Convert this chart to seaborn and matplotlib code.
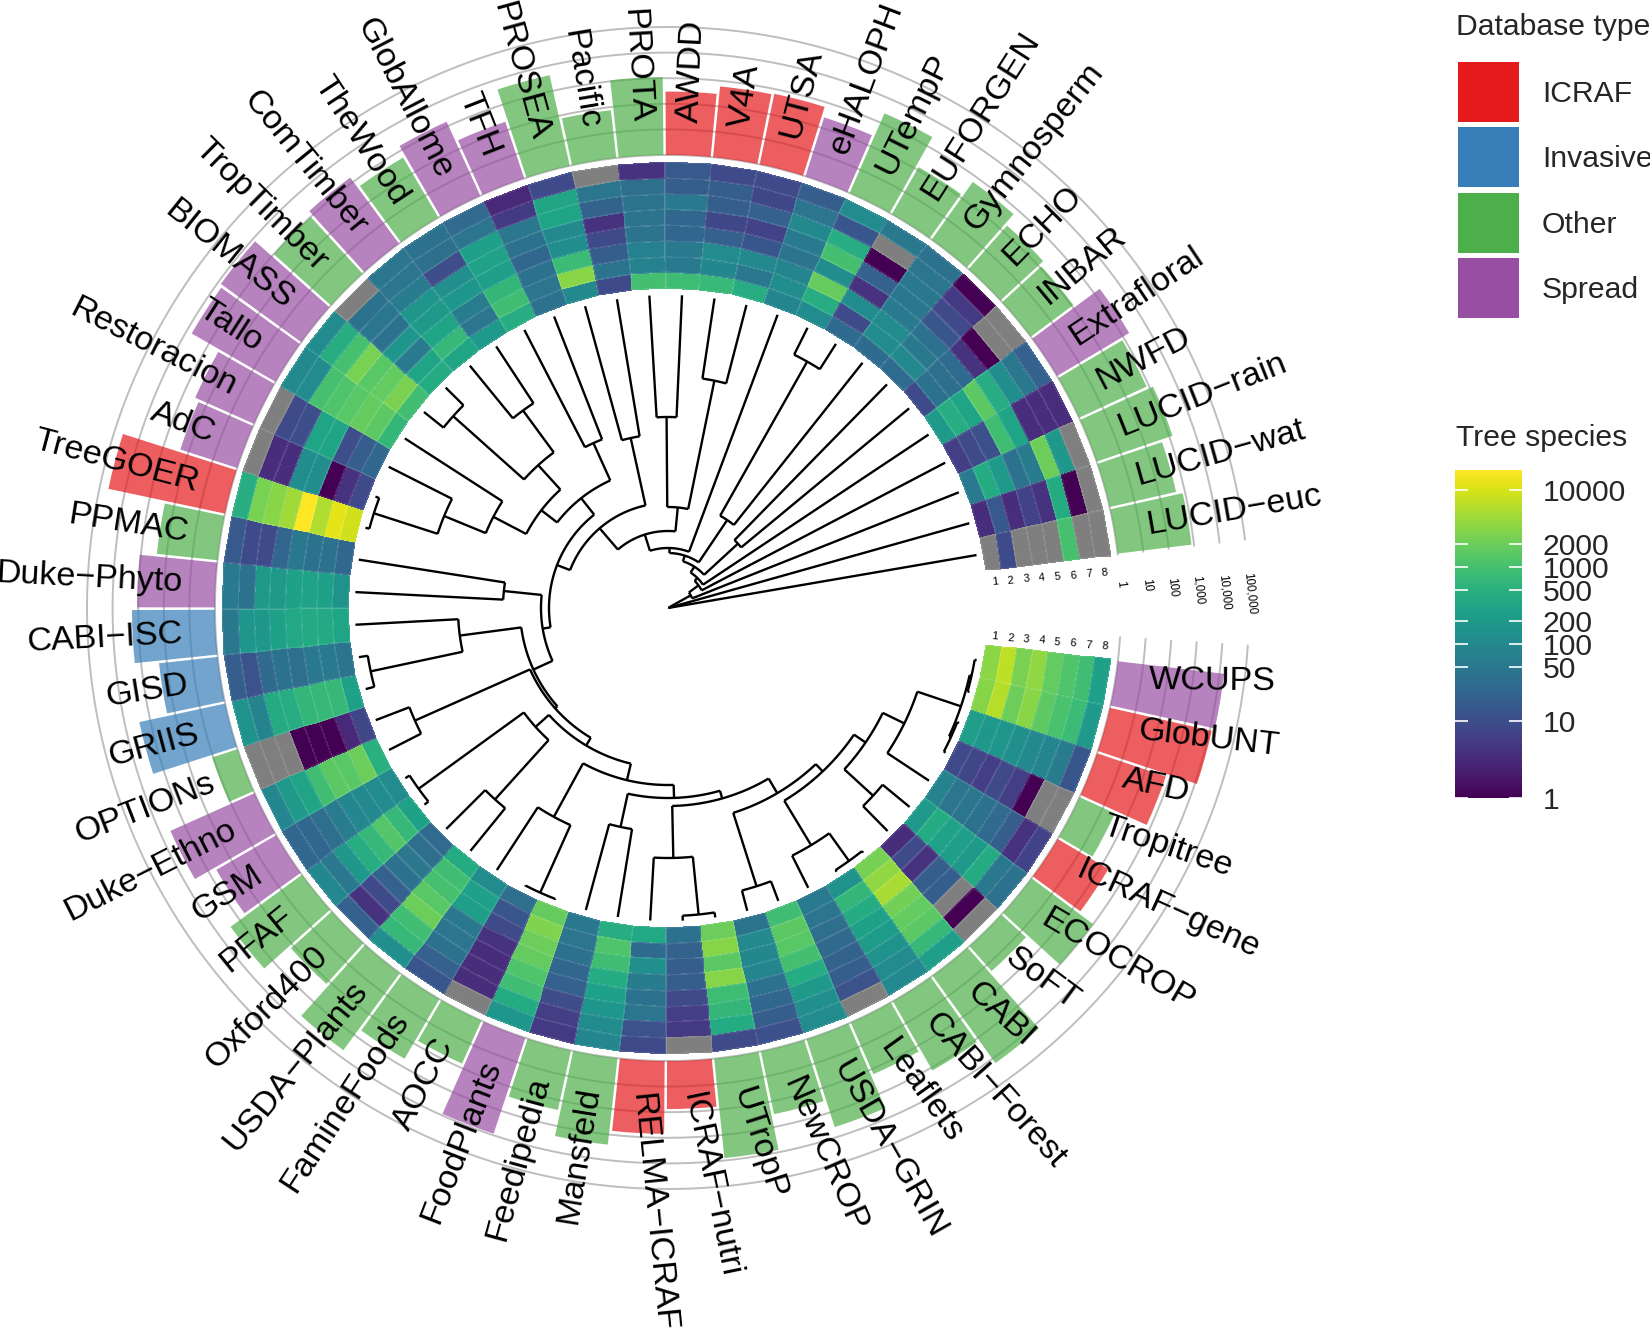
#!/usr/bin/env python3
import numpy as np
import pandas as pd
import seaborn as sns
import matplotlib
matplotlib.use("Agg")
import matplotlib.pyplot as plt
from matplotlib.colors import LogNorm
from matplotlib.patches import Rectangle

NA = np.nan

DATABASES = [
    "WCUPS", "GlobUNT", "AFD", "Tropitree", "ICRAF−gene", "ECOCROP", "SoFT", "CABI",
    "CABI−Forest", "Leaflets", "USDA−GRIN", "NewCROP", "UTropP", "ICRAF−nutri",
    "RELMA−ICRAF", "Mansfeld", "Feedipedia", "FoodPlants", "AOCC", "FamineFoods",
    "USDA−Plants", "Oxford400", "PFAF", "GSM", "Duke−Ethno", "OPTIONs", "GRIIS", "GISD",
    "CABI−ISC", "Duke−Phyto", "PPMAC", "TreeGOER", "AdC", "Restoracion", "Tallo",
    "BIOMASS", "TropTimber", "ComTimber", "TheWood", "GlobAllome", "TFH", "PROSEA",
    "Pacific", "PROTA", "AWDD", "V4A", "UTSA", "eHALOPH", "UTempP", "EUFORGEN",
    "Gymnosperm", "ECHO", "INBAR", "Extrafloral", "NWFD", "LUCID−rain", "LUCID−wat",
    "LUCID−euc",
]

DB_TYPES = [
    "Spread", "ICRAF", "ICRAF", "Other", "ICRAF", "Other", "Other", "Other",
    "Other", "Other", "Other", "Other", "Other", "ICRAF",
    "ICRAF", "Other", "Other", "Spread", "Other", "Other",
    "Other", "Other", "Other", "Spread", "Spread", "Other", "Invasive", "Invasive",
    "Invasive", "Spread", "Other", "ICRAF", "Spread", "Spread", "Spread",
    "Spread", "Other", "Spread", "Other", "Spread", "Spread", "Other",
    "Other", "Other", "ICRAF", "ICRAF", "ICRAF", "Spread", "Other", "Other",
    "Other", "Other", "Other", "Spread", "Other", "Other", "Other",
    "Other",
]

TOTAL_SPECIES = [
    15000, 12000, 680, 33, 200, 1000, 20, 16000,
    1300, 160, 4000, 320, 8000, 75,
    700, 2500, 240, 8700, 68, 500,
    5400, 140, 2800, 500, 4000, 11, 2700, 200,
    1750, 1100, 240, 45000, 215, 330, 6000,
    7500, 1000, 1600, 520, 1500, 215, 4200,
    75, 1100, 300, 600, 650, 260, 2500, 130,
    590, 185, 118, 1900, 800, 1350, 460,
    800,
]

# tree species per database, one row per database, columns are the rings 1-8
HEAT_VALUES = [
    [3300, 6800, 2500, 3500, 1700, 1200, 900, 250],
    [3000, 6000, 2000, 3200, 1600, 1100, 800, 200],
    [230, 180, 170, 130, 100, 85, 60, 14],
    [9, 8, 6, 9, 6, 1, NA, NA],
    [80, 45, 45, 40, 28, 18, 4, 7],
    [200, 400, 280, 230, 200, 400, 50, 38],
    [3.5, 9, 4, 18, 18, NA, 1, NA],
    [2300, 3500, 5000, 2200, 1700, 1500, 700, 230],
    [150, 650, 420, 260, 220, 150, 110, 100],
    [55, 45, 35, 28, 22, 18, 12, NA],
    [900, 1500, 1400, 950, 420, 200, 130, 110],
    [42, 100, 95, 85, 40, 25, 18, 11],
    [2000, 3000, 1500, 3000, 850, 650, 400, 9],
    [40, 22, 18, 18, 9, 6, 5, NA],
    [350, 30, 130, 60, 40, 45, 12, 9],
    [450, 1200, 900, 420, 250, 170, 110, 90],
    [50, 45, 38, 25, 20, 10, 6, 5],
    [1800, 2700, 2000, 1700, 1200, 900, 400, 170],
    [35, 14, 9, 4, 3.5, 3.5, 3.5, NA],
    [110, 250, 230, 50, 45, 40, 20, 14],
    [400, 900, 1000, 1400, 2000, 900, 700, 130],
    [28, 35, 48, 38, 20, 9, 4, 20],
    [270, 700, 1300, 700, 450, 180, 50, 90],
    [110, 110, 100, 90, 60, 35, 25, 25],
    [500, 2000, 1400, 1500, 900, 300, 200, 90],
    [8, 3, 1, 1, 1, NA, NA, NA],
    [250, 700, 700, 650, 450, 400, 80, 150],
    [42, 55, 50, 35, 38, 28, 12, 18],
    [300, 370, 370, 350, 250, 180, 170, 50],
    [150, 250, 280, 270, 190, 190, 40, 55],
    [25, 38, 38, 50, 25, 9, 9, 15],
    [9000, 12000, 5500, 17800, 4500, 3200, 2400, 450],
    [9, 4, 1, 120, 120, 3.5, 3.5, NA],
    [25, 18, 10, 300, 300, 10, 9, NA],
    [650, 1500, 1800, 1400, 1200, 1000, 110, 100],
    [900, 2500, 1700, 1400, 2400, 1000, 450, 110],
    [400, 300, 55, 170, 40, 45, 40, NA],
    [300, 700, 300, 200, 170, 60, 45, 45],
    [200, 45, 60, 170, 130, 10, 35, 38],
    [450, 900, 650, 230, 280, 250, 45, 28],
    [38, 45, 40, 25, 40, 48, 5, 3],
    [100, 3200, 800, 120, 100, 300, 320, 9],
    [9, 42, 18, 9, 4, 22, 45, NA],
    [950, 70, 70, 42, 42, 42, 35, 4],
    [850, 55, 55, 25, 25, 55, 18, 15],
    [750, 90, 110, 20, 8, 18, 18, 9],
    [450, 50, 100, 14, 7, 20, 8, 9],
    [85, 120, 85, 42, 55, 100, 45, 18],
    [110, 450, 1800, 120, 950, 450, 14, 110],
    [30, 9, 110, 4, 20, 1, NA, 50],
    [30, 110, 110, 55, 50, 50, 45, 40],
    [30, 100, 50, 40, 14, 9, 5, 1],
    [9, 40, 35, 30, 4, 1, NA, NA],
    [200, 450, 300, 1500, 450, 120, 50, 20],
    [6, 9, 11, 900, 300, 3.5, 3.5, 3.5],
    [55, 400, 190, 40, 60, 2000, 180, NA],
    [3.5, 15, 3.5, 7, 4, 400, 1, NA],
    [NA, 9, NA, NA, NA, 1000, NA, NA],
]

# dendrogram merges: name, left child, right child, radius of the merge arc
MERGES = [
    ("p0", 0, 1, 311), ("p2", 2, 3, 311), ("a", "p0", "p2", 309), ("n263", 4, "a", 263),
    ("p5", 5, 6, 278), ("n239", "p5", "n263", 239), ("p7", 7, 8, 311), ("n277", "p7", 9, 277),
    ("n224", "n277", "n239", 225), ("p10", 10, 11, 292), ("n215", "p10", "n224", 215),
    ("p12", 12, 13, 308), ("n250", "p12", 14, 250), ("n198", "n215", "n250", 198),
    ("p15", 15, 16, 224), ("n190", "n198", "p15", 190), ("p17", 17, 18, 312),
    ("n238", "p17", 19, 238), ("n177", "n190", "n238", 177), ("p20", 20, 21, 258),
    ("p22", 22, 23, 308), ("n178", "p20", "p22", 178), ("n160b", "n177", "n178", 160),
    ("p24", 24, 25, 277), ("n150", "n160b", "p24", 151), ("p26", 26, 27, 304),
    ("n210", "p26", 28, 210), ("n148", "n150", "n210", 148), ("p29", 29, 30, 165),
    ("n127", "n148", "p29", 127), ("p31", 31, 32, 309), ("n242", "p31", 33, 242),
    ("n197", "n242", 34, 197), ("p35", 35, 36, 288), ("p37", 37, 38, 245),
    ("n193", "p35", "p37", 193), ("n160", "n197", "n193", 160), ("p39", 39, 40, 181),
    ("n140", "n160", "p39", 140), ("n118", "n127", "n140", 119), ("p41", 41, 42, 174),
    ("n105", "n118", "p41", 105), ("p43", 43, 44, 191), ("p45", 45, 46, 232),
    ("n101", "p43", "p45", 101), ("n77", "n105", "n101", 77), ("n60", "n77", 47, 60),
    ("p48", 48, 49, 283), ("n106", "p48", 50, 106), ("n55", "n60", "n106", 55),
    ("p51", 51, 52, 95), ("n49", "n55", "p51", 49), ("n41", "n49", 53, 42),
    ("n38", "n41", 54, 38), ("n26", "n38", 55, 26), ("n2", "n26", 56, 2),
    ("root", "n2", 57, 0.3),
]

TYPE_NAMES = ["ICRAF", "Invasive", "Other", "Spread"]
TICK_VALUES = [1, 10, 50, 100, 200, 500, 1000, 2000, 10000]
RING_LABELS = ["1", "2", "3", "4", "5", "6", "7", "8"]
AXIS_VALUES = [1, 10, 100, 1000, 10000, 100000]
AXIS_LABELS = ["1", "10", "100", "1,000", "10,000", "100,000"]

WIDTH, HEIGHT = 1650, 1330
CX, CY, RMAX = 668, 608, 600
START, END = 353.4, 6.75
STEP = (START - END) / len(DATABASES)
R_LEAF, R_HEAT0, R_HEAT1 = 313, 320, 446
R_BAR0, DECADE = 453, 25.6
R_LABEL = 486
TEXT_SIZE = 24.6
LEGEND_SIZE = 21.7

sns.set_theme(style="white", rc={"axes.grid": False})
plt.rcParams["font.family"] = ["Liberation Sans", "DejaVu Sans"]

colors = dict(zip(TYPE_NAMES, sns.color_palette("Set1", 4)))
cmap = sns.color_palette("viridis", as_cmap=True).copy()
cmap.set_bad("#7F7F7F")
norm = LogNorm(vmin=1, vmax=18000)


def sector_angle(pos):
    return START - STEP * (np.asarray(pos, dtype=float) + 0.5)


def polar_line(ax, angles, radii):
    ax.plot(np.radians(angles), radii, color="black", lw=1.7, solid_capstyle="butt", zorder=4)


def draw_tree(ax):
    pos = {i: float(i) for i in range(len(DATABASES))}
    rad = {i: R_LEAF for i in range(len(DATABASES))}
    for name, left, right, r in MERGES:
        a0, a1 = sector_angle(pos[left]), sector_angle(pos[right])
        polar_line(ax, np.linspace(a0, a1, 40), np.full(40, r))
        polar_line(ax, [a0, a0], [r, rad[left]])
        polar_line(ax, [a1, a1], [r, rad[right]])
        pos[name] = (pos[left] + pos[right]) / 2
        rad[name] = r


def draw_labels(ax):
    for i, label in enumerate(DATABASES):
        angle = float(sector_angle(i))
        signed = (angle + 180) % 360 - 180
        if -95 < signed <= 90:
            ha, rotation = "left", signed
        else:
            ha, rotation = "right", signed - 180
        # the lower right labels lean less than their sector
        if i <= 14:
            rotation += 9
        anchor = angle + 1 if i <= 4 else angle
        ax.text(np.radians(anchor), R_LABEL, label, fontsize=TEXT_SIZE, color="black",
                rotation=rotation, rotation_mode="anchor", ha=ha, va="center", zorder=6)


def draw_axis_text(ax):
    ring_r = R_HEAT0 + (R_HEAT1 - R_HEAT0) * (np.arange(8) + 0.5) / 8
    for r, label in zip(ring_r, RING_LABELS):
        ax.text(np.radians(4.6), r, label, fontsize=8, rotation=5, rotation_mode="anchor",
                ha="center", va="center", color="black")
        ax.text(np.radians(355.0), r, label, fontsize=8, rotation=-5, rotation_mode="anchor",
                ha="center", va="center", color="black")
    for value, label in zip(AXIS_VALUES, AXIS_LABELS):
        r = R_BAR0 + DECADE * np.log10(value)
        ax.text(np.radians(3.5), r, label, fontsize=8.3, rotation=-84, rotation_mode="anchor",
                ha="left", va="center", color="black")


def draw_legend(fig, mesh):
    over = fig.add_axes([0, 0, 1, 1], facecolor="none")
    over.set_xlim(0, WIDTH)
    over.set_ylim(HEIGHT, 0)
    over.axis("off")
    over.text(1456, 27, "Database type", fontsize=LEGEND_SIZE, va="center", ha="left")
    over.text(1456, 438, "Tree species", fontsize=LEGEND_SIZE, va="center", ha="left")
    for k, name in enumerate(TYPE_NAMES):
        top = 62 + 65.3 * k
        over.add_patch(Rectangle((1458, top), 61, 60, facecolor=colors[name], edgecolor="none"))
        over.text(1542, top + 32, name, fontsize=LEGEND_SIZE, va="center", ha="left")

    cax = fig.add_axes([1455 / WIDTH, 1 - 798 / HEIGHT, 67 / WIDTH, 328 / HEIGHT])
    cbar = fig.colorbar(mesh, cax=cax)
    cbar.outline.set_visible(False)
    cbar.set_ticks(TICK_VALUES, labels=[str(v) for v in TICK_VALUES])
    cbar.ax.minorticks_off()
    cbar.ax.tick_params(length=0, pad=15, labelsize=LEGEND_SIZE)
    trans = cax.get_yaxis_transform()
    cax.hlines(TICK_VALUES, 0, 0.2, color="white", lw=1.2, transform=trans)
    cax.hlines(TICK_VALUES, 0.8, 1, color="white", lw=1.2, transform=trans)


def main():
    fig = plt.figure(figsize=(WIDTH / 100, HEIGHT / 100), dpi=100)
    ax = fig.add_axes(
        [(CX - RMAX) / WIDTH, 1 - (CY + RMAX) / HEIGHT, 2 * RMAX / WIDTH, 2 * RMAX / HEIGHT],
        polar=True,
    )
    ax.patch.set_alpha(0)

    # gridlines sit under the translucent bars
    grid_theta = np.radians(np.linspace(356.3, END, 720))
    for value in AXIS_VALUES:
        ax.plot(grid_theta, np.full(720, R_BAR0 + DECADE * np.log10(value)),
                color="#BEBEBE", lw=1.4, zorder=1)

    bars = pd.DataFrame({
        "theta": np.radians(sector_angle(np.arange(len(DATABASES)))),
        "height": DECADE * np.log10(TOTAL_SPECIES),
        "type": DB_TYPES,
    })
    sns.barplot(data=bars, x="theta", y="height", hue="type", palette=colors, native_scale=True,
                dodge=False, width=0.95, saturation=1, alpha=0.7, errorbar=None, legend=False,
                bottom=R_BAR0, linewidth=0, zorder=2, ax=ax)

    heat = np.ma.masked_invalid(np.array(HEAT_VALUES, dtype=float).T)
    theta_edges = np.radians(START - STEP * np.arange(len(DATABASES) + 1))
    r_edges = np.linspace(R_HEAT0, R_HEAT1, 9)
    mesh = ax.pcolormesh(theta_edges, r_edges, heat, cmap=cmap, norm=norm, shading="flat",
                         edgecolors=(1, 1, 1, 0.1), linewidth=0.3, zorder=3)

    draw_tree(ax)
    draw_labels(ax)
    draw_axis_text(ax)

    ax.set_xlim(0, 2 * np.pi)
    ax.set_ylim(0, RMAX)
    ax.axis("off")

    draw_legend(fig, mesh)
    fig.savefig("out.png", dpi=100)
    plt.close(fig)


if __name__ == "__main__":
    main()
